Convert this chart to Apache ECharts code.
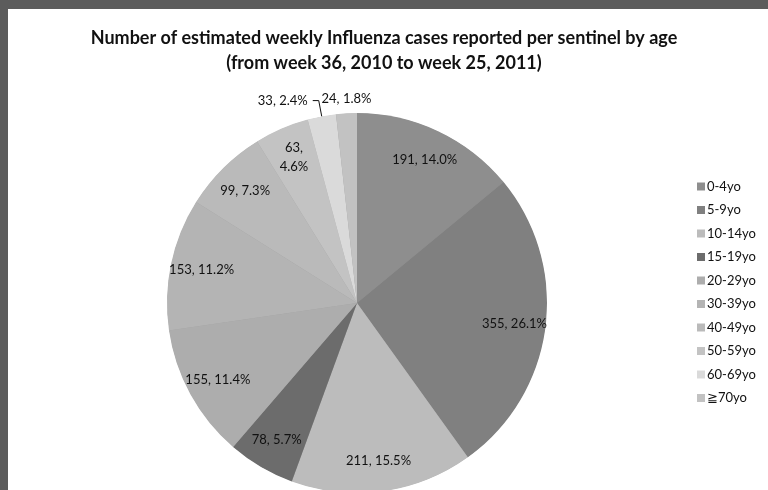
<!DOCTYPE html>
<html>
<head>
<meta charset="utf-8">
<script src="https://cdn.jsdelivr.net/npm/echarts@6/dist/echarts.min.js"></script>
<style>
  html, body { margin: 0; padding: 0; background: #fff; }
  #wrap { position: relative; width: 768px; height: 490px; }
  #chart { width: 768px; height: 490px; }
  .edge { position: absolute; background: #5c5c5c; }
  #edgeTop { left: 0; top: 0; width: 768px; height: 9px; }
  #edgeLeft { left: 0; top: 0; width: 8px; height: 490px; }
</style>
</head>
<body>
<div id="wrap">
  <div id="chart"></div>
  <div class="edge" id="edgeTop"></div>
  <div class="edge" id="edgeLeft"></div>
</div>
<script>
;(function () {
  'use strict'

  var AGE_GROUPS = ['0-4yo', '5-9yo', '10-14yo', '15-19yo', '20-29yo', '30-39yo', '40-49yo', '50-59yo', '60-69yo', '\u226770yo']
  var CASES = [191, 355, 211, 78, 155, 153, 99, 63, 33, 24]
  var GRAYS = ['#8e8e8e', '#808080', '#bcbcbc', '#6c6c6c', '#adadad', '#b4b4b4', '#bababa', '#c3c3c3', '#dadada', '#c2c2c2']

  var TITLE = 'Number of estimated weekly Influenza cases reported per sentinel by age\n(from week 36, 2010 to week 25, 2011)'
  var FONT = 'Lato, "Open Sans", sans-serif'

  var R = 190
  var CENTER = [357, 303]

  function labelText(p) {
    var pct = Number(p.percent).toFixed(1) + '%'
    if (p.dataIndex === 7) return p.value + ',\n' + pct
    return p.value + ', ' + pct
  }

  var pieData = AGE_GROUPS.map(function (name, i) {
    return { name: name, value: CASES[i], itemStyle: { color: GRAYS[i] } }
  })

  var labelData = AGE_GROUPS.map(function (name, i) {
    var d = { name: name, value: CASES[i] }
    if (i === 8) {
      d.label = { position: 'outside' }
      d.labelLine = { show: true, length: 16, length2: 6 }
    } else if (i === 9) {
      d.label = { position: 'outside' }
      d.labelLine = { show: false }
    }
    return d
  })

  var chart = echarts.init(document.getElementById('chart'))

  chart.setOption({
    animation: false,
    backgroundColor: '#fff',
    title: {
      text: TITLE,
      left: 'center',
      top: 21,
      textStyle: { fontFamily: FONT, fontSize: 18, fontWeight: 'bold', color: '#111', lineHeight: 25 }
    },
    legend: {
      orient: 'vertical',
      left: 692,
      top: 175,
      icon: 'rect',
      itemWidth: 8,
      itemHeight: 8,
      itemGap: 10.5,
      data: AGE_GROUPS,
      itemStyle: { borderWidth: 0 },
      textStyle: { fontFamily: FONT, fontSize: 13, color: '#111', padding: [0, 0, 0, -3] },
      selectedMode: false
    },
    series: [
      {
        type: 'pie',
        name: 'cases',
        z: 3,
        center: CENTER,
        radius: [0, R],
        startAngle: 90,
        clockwise: true,
        data: pieData,
        itemStyle: { borderWidth: 0 },
        label: { show: false },
        labelLine: { show: false },
        emphasis: { disabled: true }
      },
      {
        // same slices underneath, stroked in mid grey to fill anti-alias seams
        type: 'pie',
        name: 'underlay',
        z: 1,
        center: CENTER,
        radius: [0, R - 2],
        startAngle: 90,
        clockwise: true,
        silent: true,
        legendHoverLink: false,
        data: pieData,
        itemStyle: { borderColor: '#9c9c9c', borderWidth: 3 },
        label: { show: false },
        labelLine: { show: false },
        emphasis: { disabled: true }
      },
      {
        type: 'pie',
        name: 'labels',
        z: 4,
        center: CENTER,
        radius: [R * 0.64, R],
        startAngle: 90,
        clockwise: true,
        silent: true,
        legendHoverLink: false,
        avoidLabelOverlap: false,
        percentPrecision: 1,
        data: labelData,
        itemStyle: { color: 'rgba(0,0,0,0)', borderColor: 'rgba(0,0,0,0)', borderWidth: 0 },
        label: {
          show: true,
          position: 'inside',
          formatter: labelText,
          fontFamily: FONT,
          fontSize: 13,
          color: '#111',
          lineHeight: 19
        },
        labelLine: { lineStyle: { color: '#111', width: 1 } },
        labelLayout: function (params) {
          if (params.dataIndex === 9) {
            return {
              x: params.rect.x + params.rect.width / 2,
              y: params.rect.y - 14,
              align: 'center',
              verticalAlign: 'middle'
            }
          }
        },
        emphasis: { disabled: true }
      }
    ]
  })
})()
</script>
</body>
</html>
